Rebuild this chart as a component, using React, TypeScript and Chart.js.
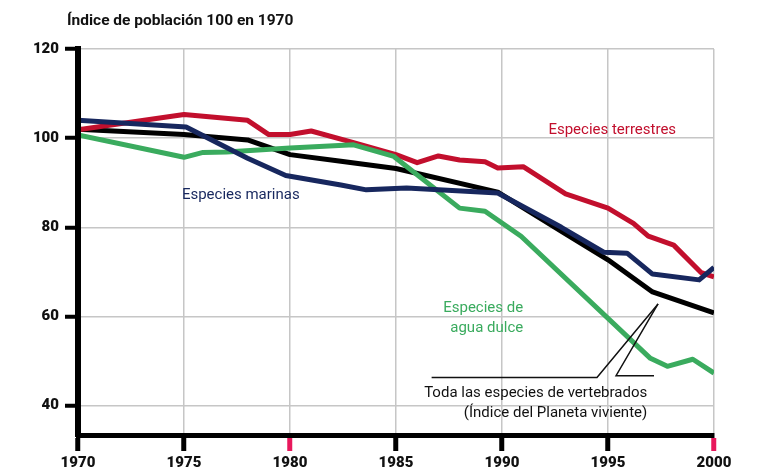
import React, { useEffect, useRef } from "react";
import { Chart, registerables } from "chart.js";

Chart.register(...registerables);

// ---- Data ----
const TITLE = "Índice de población 100 en 1970";
const X_TICKS = [1970, 1975, 1980, 1985, 1990, 1995, 2000];
const Y_TICKS = [40, 60, 80, 100, 120];
const HIGHLIGHT_YEARS = [1980, 2000];

const TERR_YEARS = [1970, 1975, 1978, 1979, 1980, 1981, 1983, 1985, 1986, 1987, 1988, 1989.2, 1989.8, 1991, 1993, 1995, 1996.2, 1996.9, 1998.1, 1999.4, 2000];
const TERR_VALUES = [101.9, 105.3, 104.0, 100.8, 100.8, 101.6, 99.0, 96.3, 94.5, 96.0, 95.1, 94.7, 93.3, 93.6, 87.5, 84.3, 80.9, 78.0, 76.0, 69.8, 68.9];

const MARINE_YEARS = [1970, 1975.1, 1978, 1979.8, 1982.4, 1983.6, 1985.5, 1989.8, 1992.8, 1994.8, 1995.9, 1997.1, 1999.3, 2000];
const MARINE_VALUES = [104.0, 102.5, 95.5, 91.6, 89.5, 88.4, 88.8, 87.7, 80.0, 74.4, 74.2, 69.5, 68.2, 71.0];

const FRESH_YEARS = [1970, 1975, 1975.9, 1977, 1980, 1983, 1984.9, 1988, 1989.2, 1990.9, 1997, 1997.8, 1999, 2000];
const FRESH_VALUES = [100.7, 95.7, 96.8, 96.9, 97.8, 98.5, 95.9, 84.3, 83.6, 78.0, 50.6, 48.8, 50.4, 47.3];

const ALL_YEARS = [1970, 1975, 1978, 1980, 1982.4, 1985, 1989.8, 1992.9, 1995, 1997.1, 2000];
const ALL_VALUES = [102.0, 100.8, 99.6, 96.3, 94.8, 93.2, 87.9, 78.8, 72.7, 65.5, 60.8];

const SERIES_NAMES = ["Especies terrestres", "Especies marinas", "Especies de agua dulce", "Toda las especies de vertebrados"];

// ---- Styles ----
const RED = "#c20f2d";
const NAVY = "#17275e";
const GREEN = "#3aab5e";
const BLACK = "#000000";
const PINK = "#e8185c";
const GRID = "#c6c6c6";
const FONT = "Roboto";

// ---- Annotations (data coordinates) ----
const TEXT_LABELS = [
  { text: "Especies terrestres", x: 1995.2, y: 101.8, align: "center", color: RED },
  { text: "Especies marinas", x: 1974.9, y: 87.2, align: "left", color: NAVY },
  { text: "Especies de", x: 1991.0, y: 61.9, align: "right", color: GREEN },
  { text: "agua dulce", x: 1991.0, y: 57.4, align: "right", color: GREEN },
  { text: "Toda las especies de vertebrados", x: 1996.85, y: 42.8, align: "right", color: "#111111" },
  { text: "(Índice del Planeta viviente)", x: 1996.85, y: 38.3, align: "right", color: "#111111" },
];
const LEADERS = [
  [[1986.68, 46.3], [1994.48, 46.3], [1997.36, 62.8]],
  [[1997.17, 46.7], [1995.38, 46.7], [1997.36, 62.8]],
];

const toPoints = (xs: number[], ys: number[]) => xs.map((x, i) => ({ x, y: ys[i] }));

const annotationPlugin = {
  id: "annotations",
  afterDatasetsDraw(chart: any) {
    const { ctx, chartArea } = chart;
    const xs = chart.scales.x;
    const ys = chart.scales.y;
    ctx.save();
    // redraw y axis line on top of series ends
    ctx.fillStyle = BLACK;
    ctx.fillRect(chartArea.left - 3, chartArea.top - 2, 6, chartArea.bottom - chartArea.top + 4);
    // leader lines
    ctx.strokeStyle = "#111111";
    ctx.lineWidth = 1.5;
    ctx.lineJoin = "miter";
    for (const path of LEADERS) {
      ctx.beginPath();
      path.forEach(([px, py]: number[], i: number) => {
        const X = xs.getPixelForValue(px);
        const Y = ys.getPixelForValue(py);
        if (i === 0) ctx.moveTo(X, Y);
        else ctx.lineTo(X, Y);
      });
      ctx.stroke();
    }
    // text labels
    ctx.textBaseline = "middle";
    ctx.font = `15px ${FONT}`;
    for (const l of TEXT_LABELS) {
      ctx.fillStyle = l.color;
      ctx.textAlign = l.align;
      ctx.fillText(l.text, xs.getPixelForValue(l.x), ys.getPixelForValue(l.y));
    }
    // title
    ctx.font = `bold 15.5px ${FONT}`;
    ctx.fillStyle = "#111111";
    ctx.textAlign = "left";
    ctx.textBaseline = "alphabetic";
    ctx.fillText(TITLE, chartArea.left - 11, 25);
    ctx.restore();
  },
};

export default function App() {
  const canvasRef = useRef<HTMLCanvasElement | null>(null);

  useEffect(() => {
    document.body.style.margin = "0";
    const canvas = canvasRef.current;
    if (!canvas) return;
    const mk = (label: string, xs: number[], ys: number[], color: string, order: number) => ({
      label,
      data: toPoints(xs, ys),
      borderColor: color,
      backgroundColor: color,
      borderWidth: 5,
      pointRadius: 0,
      tension: 0,
      fill: false,
      clip: 0,
      order,
      borderJoinStyle: "round" as const,
    });
    const chart = new Chart(canvas, {
      type: "line",
      data: {
        datasets: [
          mk(SERIES_NAMES[1], MARINE_YEARS, MARINE_VALUES, NAVY, 0),
          mk(SERIES_NAMES[2], FRESH_YEARS, FRESH_VALUES, GREEN, 1),
          mk(SERIES_NAMES[0], TERR_YEARS, TERR_VALUES, RED, 2),
          mk(SERIES_NAMES[3], ALL_YEARS, ALL_VALUES, BLACK, 3),
        ],
      },
      options: {
        responsive: false,
        devicePixelRatio: 1,
        animation: false,
        layout: { padding: { top: 49, right: 53, bottom: 0, left: 0 } },
        plugins: {
          legend: { display: false },
          tooltip: { enabled: false },
          title: { display: false },
        },
        scales: {
          x: {
            type: "linear",
            min: 1970,
            max: 2000,
            afterBuildTicks: (s: any) => {
              s.ticks = X_TICKS.map((v) => ({ value: v }));
            },
            afterFit: (s: any) => {
              s.height = 40;
            },
            ticks: {
              font: { family: FONT, size: 15, weight: "900" },
              color: "#111111",
              padding: 3,
              maxRotation: 0,
              autoSkip: false,
              callback: (v: any) => String(v),
            },
            grid: {
              color: GRID,
              lineWidth: 1.5,
              tickLength: 16,
              tickWidth: 5,
              tickColor: (c: any) => (HIGHLIGHT_YEARS.includes(c.tick?.value) ? PINK : BLACK),
            },
            border: { display: true, color: BLACK, width: 5 },
          },
          y: {
            type: "linear",
            min: 33.4,
            max: 120,
            afterBuildTicks: (s: any) => {
              s.ticks = Y_TICKS.map((v) => ({ value: v }));
            },
            afterFit: (s: any) => {
              s.width = 78;
            },
            ticks: {
              font: { family: FONT, size: 15, weight: "900" },
              color: "#111111",
              padding: 6,
              callback: (v: any) => String(v),
            },
            grid: {
              color: GRID,
              lineWidth: 1.5,
              tickLength: 13,
              tickWidth: 4,
              tickColor: BLACK,
            },
            border: { display: true, color: BLACK, width: 6 },
          },
        },
      },
      plugins: [annotationPlugin],
    });
    return () => chart.destroy();
  }, []);

  return (
    <div style={{ position: "absolute", left: 0, top: 0, width: 767, height: 475, background: "#fff" }}>
      <canvas ref={canvasRef} width={767} height={475} style={{ display: "block" }} />
    </div>
  );
}
